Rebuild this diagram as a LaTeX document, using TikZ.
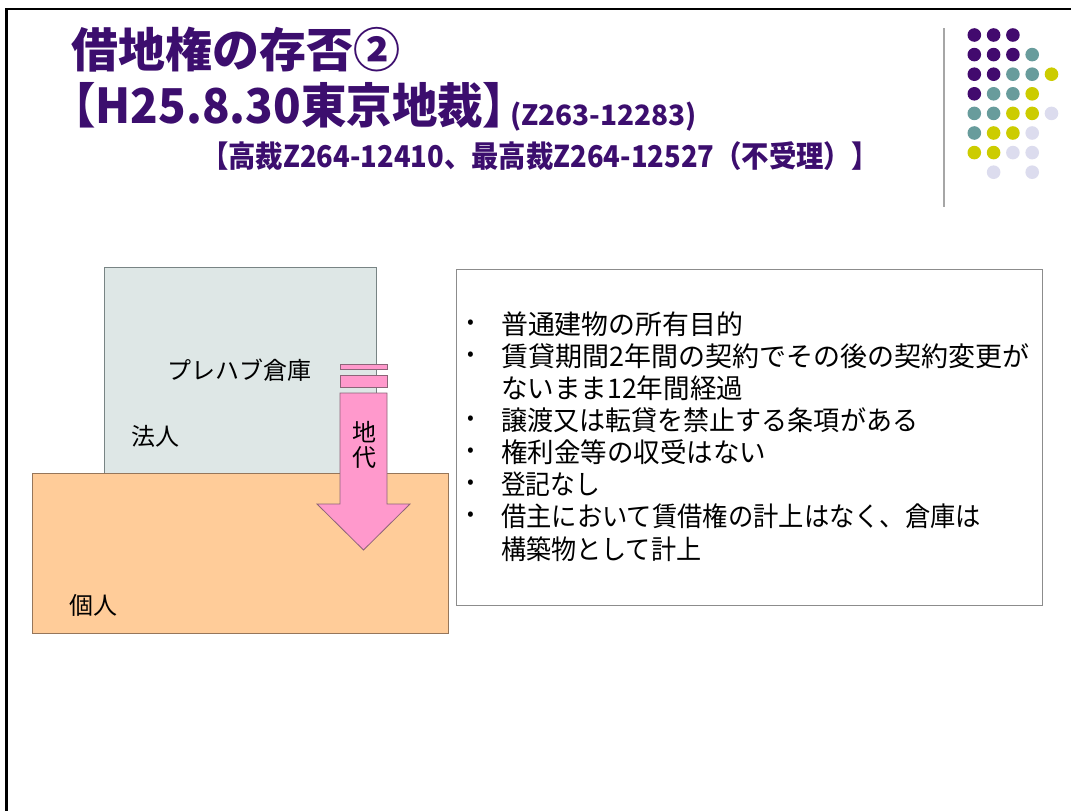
\documentclass[tikz,border=0pt]{standalone}
\usepackage{fontspec}
\newfontfamily\jp{Noto Sans CJK JP}
\newcommand\fitw[2]{\sbox0{#2}\pgfmathsetmacro\fitr{#1/\wd0}\scalebox{\fitr}[1]{\usebox0}}
\definecolor{ttl}{RGB}{60,14,110}
\definecolor{dP}{RGB}{66,10,110}
\definecolor{dT}{RGB}{104,156,156}
\definecolor{dY}{RGB}{204,204,0}
\definecolor{dL}{RGB}{220,220,238}
\definecolor{bldfill}{RGB}{222,231,230}
\definecolor{bldline}{RGB}{120,132,132}
\definecolor{orgfill}{RGB}{255,204,153}
\definecolor{orgline}{RGB}{150,118,90}
\definecolor{pkfill}{RGB}{255,153,204}
\definecolor{pkline}{RGB}{140,100,120}
\begin{document}
\begin{tikzpicture}[x=1pt,y=-1pt,
  ttlA/.style={text=ttl,font=\jp\bfseries\fontsize{47}{56}\selectfont,inner sep=0,anchor=west},
  ttlB/.style={text=ttl,font=\jp\bfseries\fontsize{48}{56}\selectfont,inner sep=0,anchor=west},
  ttlC/.style={text=ttl,font=\jp\bfseries\fontsize{28}{32}\selectfont,inner sep=0,anchor=base west},
  ttlD/.style={text=ttl,font=\jp\bfseries\fontsize{30}{34}\selectfont,inner sep=0,anchor=west},
  body/.style={font=\jp\fontsize{27}{32}\selectfont,inner sep=0,anchor=west},
  lbl/.style={font=\jp\fontsize{24}{28}\selectfont,inner sep=0},
  bul/.style={font=\jp\fontsize{20}{24}\selectfont,inner sep=0},
  dot/.style={circle,minimum size=13.6pt,inner sep=0},
  panel/.style={draw,anchor=north west,inner sep=0}]
\useasboundingbox (0,0) rectangle (1071,811);
\fill[white] (0,0) rectangle (1071,811);
% slide frame
\draw[line width=2.5pt] (6.5,811) -- (6.5,9) -- (1071,9);
% titles
\node[ttlA] (t1) at (71,50) {借地権の存否②};
\node[ttlB] (t2) at (50,105) {\scalebox{0.947}[1]{【H25.8.30東京地裁】\kern-0.8em}};
\node[ttlC] (t2b) at (510,125) {(Z263-12283)};
\node[ttlD] (t3) at (201,156) {\scalebox{0.9125}[1]{【高裁Z264-12410、最高裁Z264-12527（不受理）】}};
% decoration
\draw[gray!70,line width=2pt] (944,28) -- (944,207);
\foreach \c/\r/\col in {0/0/dP,1/0/dP,2/0/dP,
  0/1/dP,1/1/dP,2/1/dP,3/1/dT,
  0/2/dP,1/2/dP,2/2/dT,3/2/dT,4/2/dY,
  0/3/dP,1/3/dT,2/3/dT,3/3/dY,
  0/4/dT,1/4/dT,2/4/dY,3/4/dY,4/4/dL,
  0/5/dT,1/5/dY,2/5/dY,3/5/dL,
  0/6/dY,1/6/dY,2/6/dL,3/6/dL,
  1/7/dL,3/7/dL}
  \node[dot,fill=\col] (d-\c-\r) at ({974.3+19.3*\c},{35+19.6*\r}) {};
% left diagram
\node[panel,fill=bldfill,draw=bldline,line width=1pt,minimum width=272pt,minimum height=206pt] (bld) at (104,267) {};
\node[panel,fill=orgfill,draw=orgline,line width=1pt,minimum width=416pt,minimum height=160pt] (land) at (32,473) {};
\node[lbl] (prefab) at (239,370) {プレハブ倉庫};
\node[lbl] (corp) at (155,436) {法人};
\node[lbl] (indiv) at (93,605) {個人};
% rent arrow
\filldraw[fill=pkfill,draw=pkline,line width=0.8pt] (340,364) rectangle (387,369);
\filldraw[fill=pkfill,draw=pkline,line width=0.8pt] (340,375) rectangle (387,387);
\filldraw[fill=pkfill,draw=pkline,line width=0.8pt,line join=miter]
  (340,393) -- (387,393) -- (387,504) -- (410,504) -- (363.5,550) -- (317,504) -- (340,504) -- cycle;
\node[lbl] (rent1) at (364,432) {地};
\node[lbl] (rent2) at (364,458) {代};
% text panel
\node[panel,draw={rgb,255:red,140;green,140;blue,140},line width=1.2pt,minimum width=586pt,minimum height=336pt] (info) at (456,269) {};
\foreach \i/\t/\w/\b in {0/普通建物の所有目的/242/1,
  1/賃貸期間2年間の契約でその後の契約変更が/528/1,
  2/ないまま12年間経過/242/0,
  3/譲渡又は転貸を禁止する条項がある/417/1,
  4/権利金等の収受はない/265/1,
  5/登記なし/99/1,
  6/借主において賃借権の計上はなく、倉庫は/480/1,
  7/構築物として計上/200/0}{
  \node[body] (l\i) at (501,{324+32.1*\i}) {\fitw{\w}{\t}};
  \ifnum\b=1 \node[bul] (b\i) at (471,{324+32.1*\i}) {•};\fi
}
\end{tikzpicture}
\end{document}
